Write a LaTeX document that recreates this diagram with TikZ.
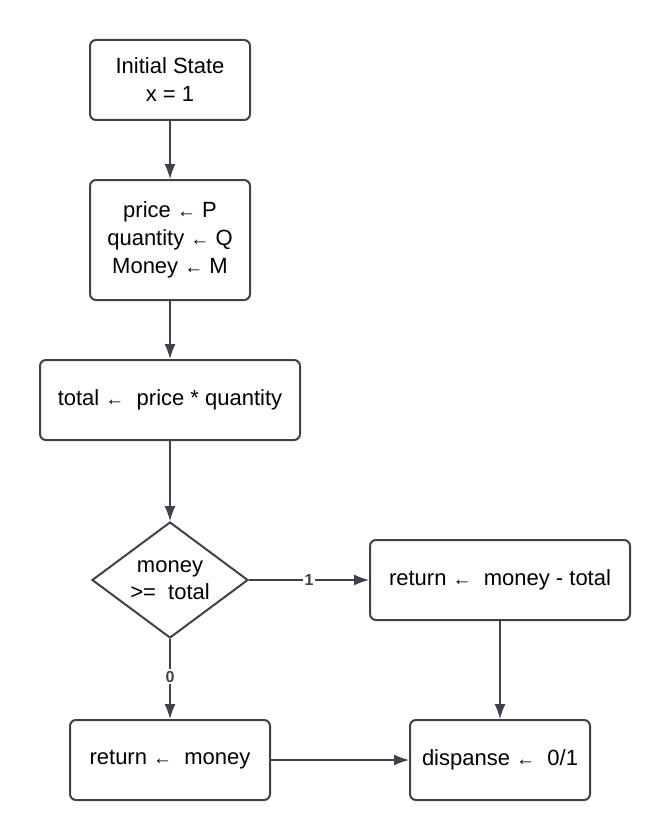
\documentclass[tikz,border=0pt]{standalone}
\usepackage{fontspec}
\setmainfont{Liberation Sans}
\usetikzlibrary{arrows.meta,shapes.geometric}
\definecolor{linegray}{HTML}{3D424B}
\newcommand{\la}{{\fontsize{19}{19}\selectfont ←}}
\tikzset{
  box/.style={draw=linegray,line width=2pt,rounded corners=6pt,align=center,
    inner sep=0pt,font=\fontsize{22}{28}\selectfont},
  decide/.style={draw=linegray,line width=2pt,diamond,aspect=1.35,inner sep=0pt,
    minimum width=156pt,minimum height=116pt,align=center,
    font=\fontsize{22}{27}\selectfont},
  flow/.style={draw=linegray,line width=1.3pt,-{Latex[length=15pt,width=11pt]}},
  branch/.style={fill=white,inner sep=1.5pt,font=\fontsize{16}{16}\selectfont\bfseries,
    text=linegray}}

\begin{document}
\begin{tikzpicture}[x=1pt,y=-1pt]
          \useasboundingbox (0,0) rectangle (670,840);

          \node (init) at (170,80) [box,minimum width=160pt,minimum height=80pt] {Initial State\\x = 1};
          \node (assign) at (170,240) [box,minimum width=160pt,minimum height=120pt] {price \la\ P\\quantity \la\ Q\\Money \la\ M};
          \node (total) at (170,400) [box,minimum width=260pt,minimum height=80pt] {total \la\ \ price * quantity};
          \node (check) at (170,580) [decide] {money\\>=~ total};
          \node (change) at (500,580) [box,minimum width=260pt,minimum height=80pt] {return \la\ \ money - total};
          \node (refund) at (170,760) [box,minimum width=200pt,minimum height=80pt] {return \la\ \ money};
          \node (dispense) at (500,760) [box,minimum width=180pt,minimum height=80pt] {dispanse \la\ \ 0/1};

          \draw[flow] (init) -- (assign);
          \draw[flow] (assign) -- (total);
          \draw[flow] (total) -- (check);
          \draw[flow] (check.east) -- node[branch,pos=0.5] {1} (check.east -| change.west);
          \draw[flow] (check) -- node[branch,pos=0.47] {0} (refund);
          \draw[flow] (change) -- (dispense);
          \draw[flow] (refund) -- (dispense);
        \end{tikzpicture}
\end{document}
